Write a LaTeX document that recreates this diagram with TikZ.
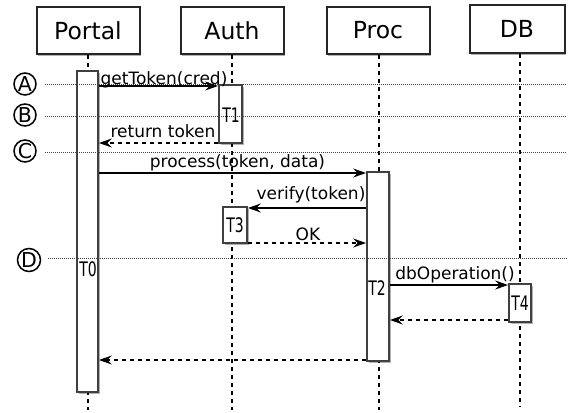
\documentclass[tikz,border=0pt]{standalone}
\usepackage{fontspec}
\usepackage{graphicx}
\setmainfont{DejaVu Sans}
\usetikzlibrary{arrows.meta,shadows}
\begin{document}
\begin{tikzpicture}[x=1pt,y=-1pt,
  shad/.style={drop shadow={shadow xshift=1.8pt,shadow yshift=-1.8pt,opacity=0.3,fill=black}},
  head/.style={shad,draw=black!85,line width=2pt,fill=white,minimum width=103pt,minimum height=47pt,inner sep=0pt,font=\fontsize{23.5}{26}\selectfont},
  act/.style={shad,draw=black!75,line width=1.8pt,fill=white,inner sep=0pt},
  tlbl/.style={font=\fontsize{20}{22}\selectfont,inner sep=0pt},
  life/.style={line width=1.3pt,dash pattern=on 4pt off 4pt},
  sepline/.style={line width=0.8pt,dash pattern=on 1pt off 1pt,black!75},
  msg/.style={line width=1.6pt,-{Stealth[length=13pt,width=9pt,inset=4.5pt]}},
  ret/.style={msg,dash pattern=on 4pt off 4pt},
  lbl/.style={font=\fontsize{17}{19}\selectfont,inner sep=0pt,anchor=base},
  circ/.style={circle,draw,line width=1.5pt,minimum size=22pt,inner sep=0pt,font=\fontsize{20.5}{22}\selectfont}]
\useasboundingbox[fill=white] (0,0) rectangle (577,412);

% headers
\node[head] (hP) at (88,30.5) {Portal};
\node[head] (hA) at (232,30.5) {Auth};
\node[head] (hR) at (378,30.5) {Proc};
\node[head,minimum width=95pt,minimum height=48pt] (hD) at (517,29) {DB};

% lifeline ends
\coordinate (eP) at (88,410);
\coordinate (eA) at (232,410);
\coordinate (eR) at (379,410);
\coordinate (eD) at (520,407);
\draw[life] (hP.south) -- (eP);
\draw[life] (hA.south) -- (eA);
\draw[life] (hR.south -| eR) -- (eR);
\draw[life] (hD.south -| eD) -- (eD);

% activations
\node[act,minimum width=21pt,minimum height=321pt] (T0) at (87.5,231.5) {};
\node[act,minimum width=23pt,minimum height=58pt] (T1) at (230.5,114) {};
\node[act,minimum width=22pt,minimum height=189pt] (T2) at (378,266.5) {};
\node[act,minimum width=24pt,minimum height=36pt] (T3) at (235,225) {};
\node[act,minimum width=22pt,minimum height=38pt] (T4) at (520,303) {};

% separators
\coordinate (sA1) at (45,84);  \coordinate (sA2) at (566,84);
\coordinate (sB1) at (45,116); \coordinate (sB2) at (566,116);
\coordinate (sC1) at (45,152); \coordinate (sC2) at (566,152);
\coordinate (sD1) at (48,258); \coordinate (sD2) at (567,258);
\draw[sepline] (sA1) -- (sA2);
\draw[sepline] (sB1) -- (sB2);
\draw[sepline] (sC1) -- (sC2);
\draw[sepline] (sD1) -- (sD2);

% activation labels
\node[tlbl] (lT0) at (88,269) {\scalebox{0.7}[1]{T0}};
\node[tlbl] (lT1) at (231,115) {\scalebox{0.7}[1]{T1}};
\node[tlbl] (lT2) at (377,288) {\scalebox{0.7}[1]{T2}};
\node[tlbl] (lT3) at (235,225) {\scalebox{0.7}[1]{T3}};
\node[tlbl] (lT4) at (520,303) {\scalebox{0.7}[1]{T4}};

% messages
\coordinate (y1) at (0,86);
\coordinate (y2) at (0,143);
\coordinate (y3) at (0,173);
\coordinate (y4) at (0,208);
\coordinate (y5) at (0,243);
\coordinate (y6) at (0,285);
\coordinate (y7) at (0,320);
\coordinate (y8) at (0,360);
\draw[msg] (T0.east |- y1) -- (T1.west |- y1);
\draw[ret] (T1.west |- y2) -- (T0.east |- y2);
\draw[msg] (T0.east |- y3) -- (T2.west |- y3);
\draw[msg] (T2.west |- y4) -- (T3.east |- y4);
\draw[ret] (T3.east |- y5) -- (T2.west |- y5);
\draw[msg] (T2.east |- y6) -- (T4.west |- y6);
\draw[ret] (T4.west |- y7) -- (T2.east |- y7);
\draw[ret] (T2.west |- y8) -- (T0.east |- y8);

% message labels
\node[lbl] (m1) at (164,84) {getToken(cred)};
\node[lbl] (m2) at (163,137) {return token};
\node[lbl] (m3) at (237.5,167) {process(token, data)};
\node[lbl] (m4) at (311,199) {verify(token)};
\node[lbl] (m5) at (308,240) {OK};
\node[lbl] (m6) at (455,279) {dbOperation()};

% circled markers
\node[circ] (cA) at (25,84) {A};
\node[circ] (cB) at (25,115) {B};
\node[circ] (cC) at (25,151) {C};
\node[circ,minimum size=23pt] (cD) at (29,260) {D};
\end{tikzpicture}
\end{document}
